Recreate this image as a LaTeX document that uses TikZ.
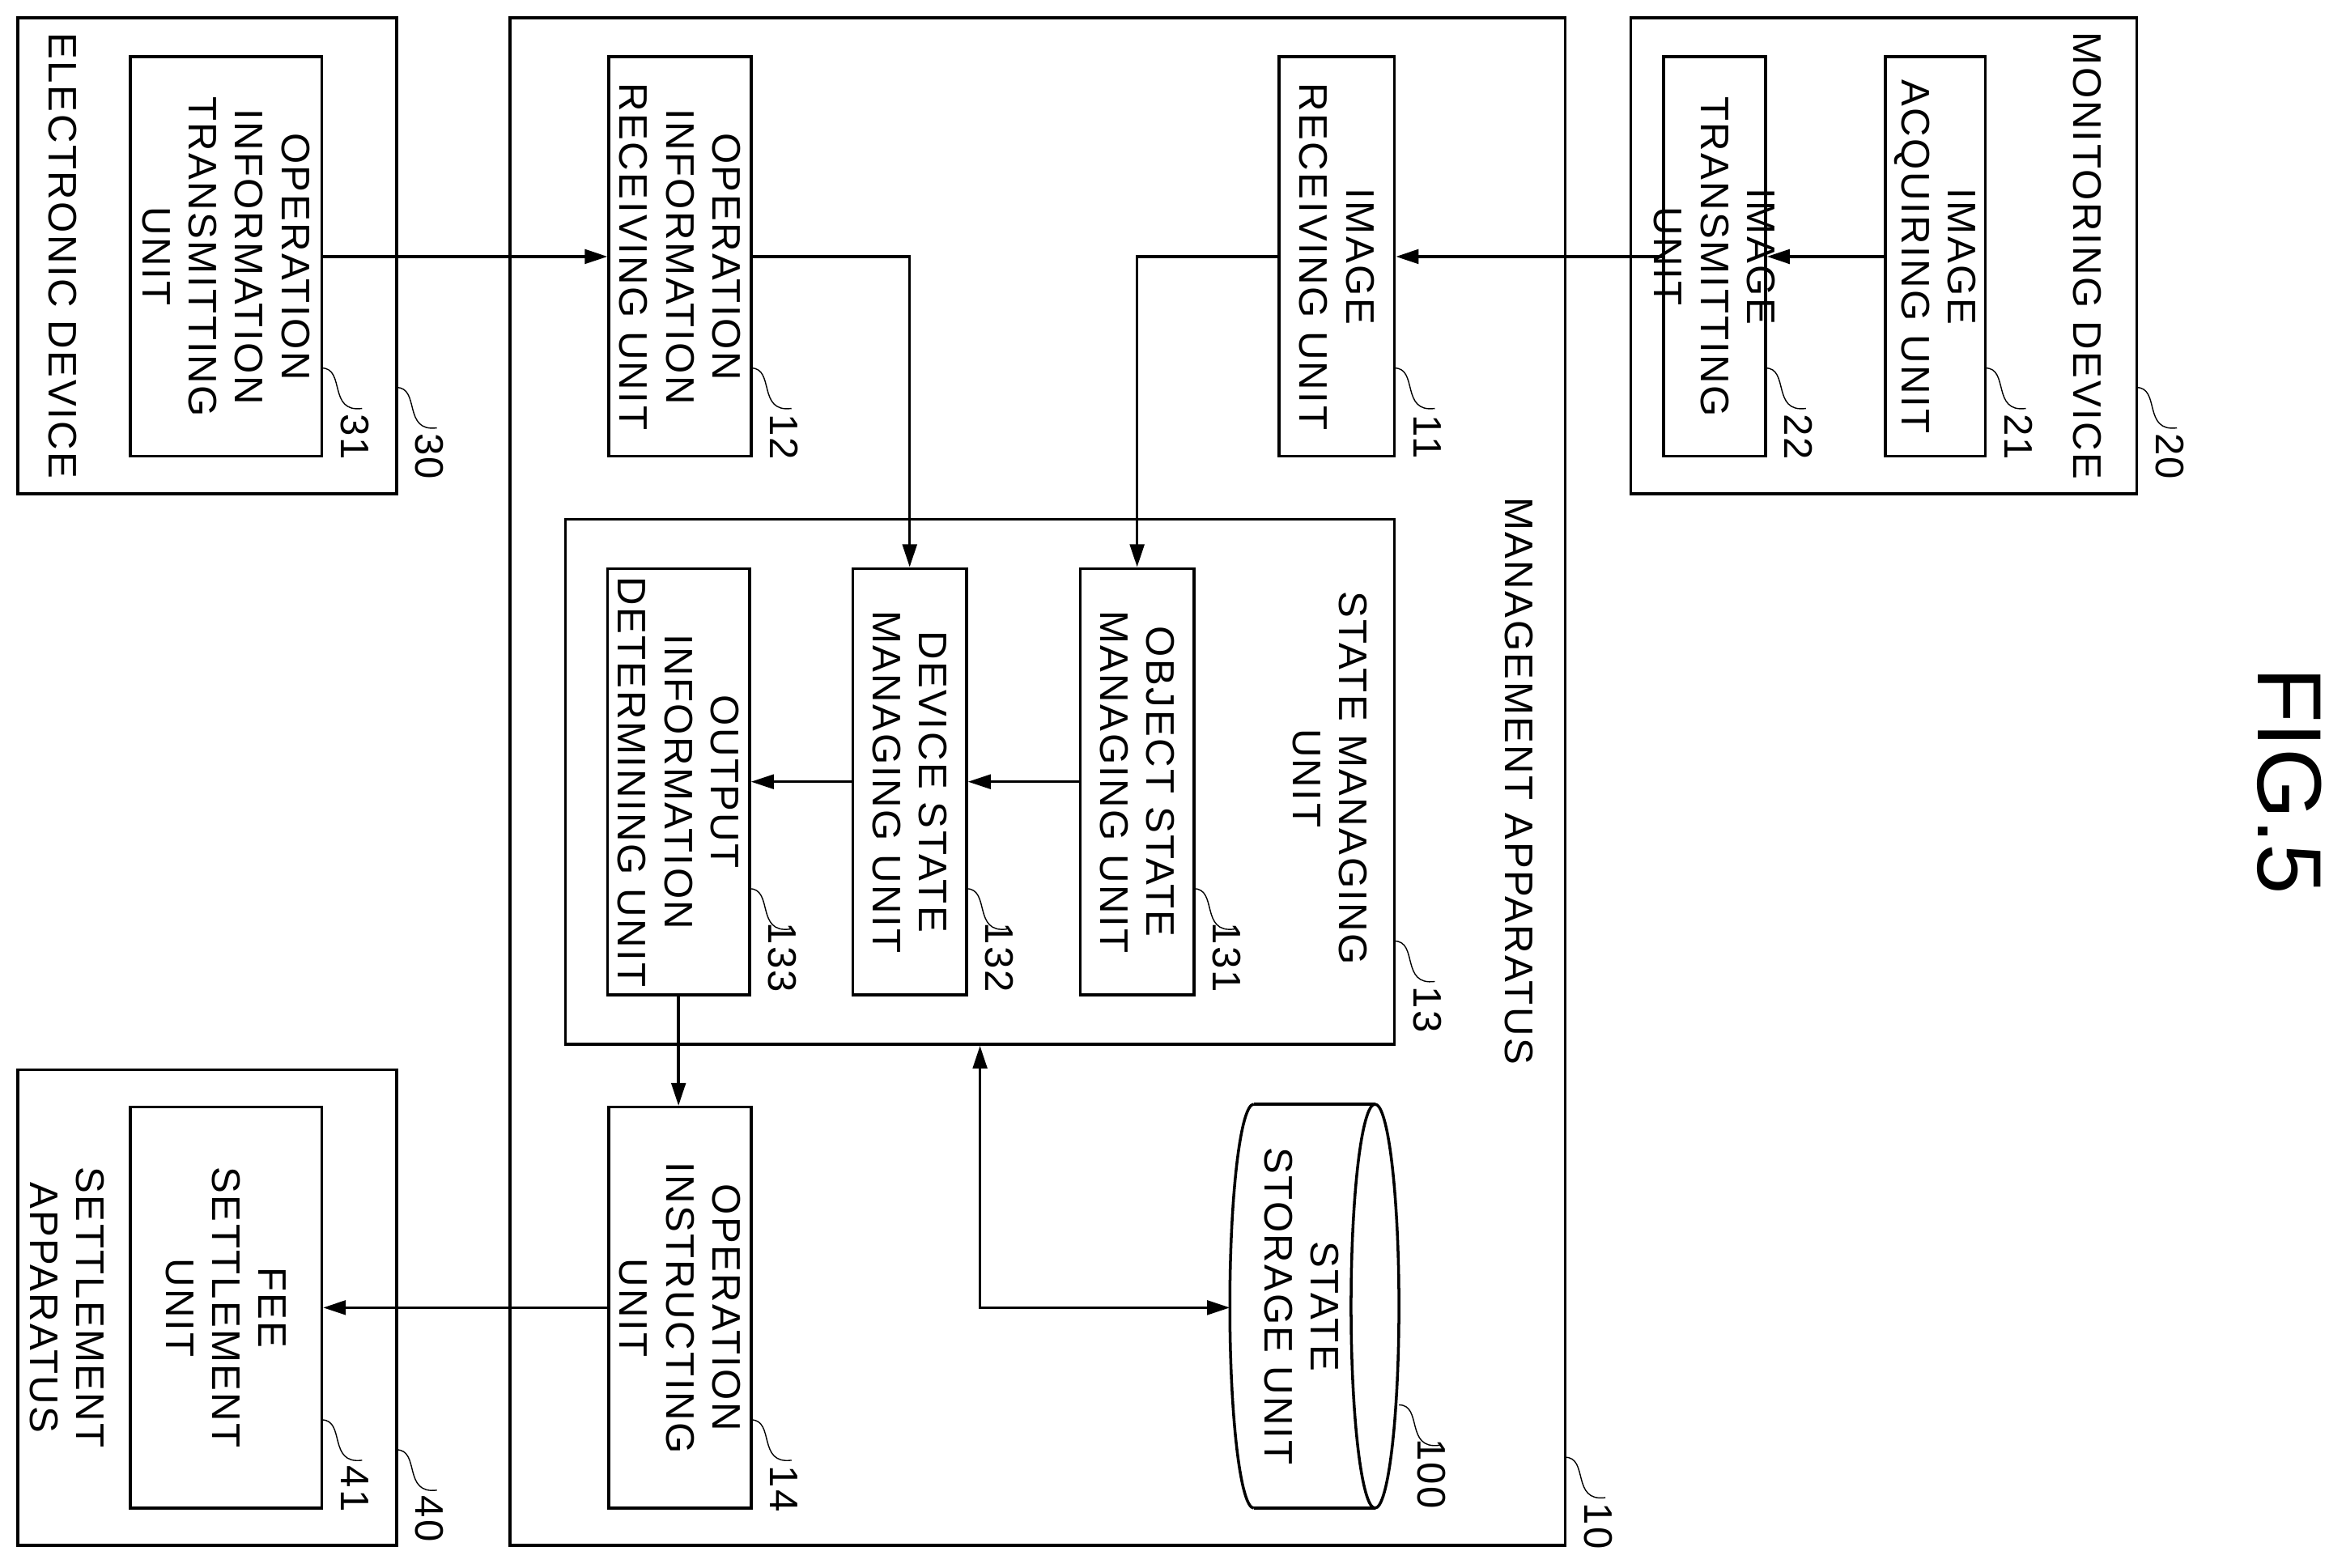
\documentclass[tikz,border=0pt]{standalone}
\usepackage{fontspec}
\setmainfont{Liberation Sans}
\usetikzlibrary{arrows.meta, fit}

\tikzset{
    box/.style={draw, line width=1pt, inner sep=0pt, fit={#1}},
    txt/.style={rotate=-90, align=center, inner sep=0pt,
        font=\fontsize{14}{16.3}\selectfont\addfontfeature{LetterSpace=5}},
    num/.style={rotate=-90, inner sep=0pt,
        font=\fontsize{14}{16.3}\selectfont\addfontfeature{LetterSpace=5}},
    leader/.style={line width=0.4pt},
    flow/.style={line width=1pt, -{Triangle[length=8pt, width=5pt]}},
    biflow/.style={line width=1pt, {Triangle[length=8pt, width=5pt]}-{Triangle[length=8pt, width=5pt]}}
}
\newcommand{\refnum}[3]{%
    \draw[leader] (#1,#2) .. controls ({#1+16},{#2}) and ({#1+4},{#2+30}) .. ({#1+27},{#2+27});
    \node[num] at ({#1+22},{#2+46}) {#3};}

\begin{document}
\begin{tikzpicture}[x=0.018495cm, y=-0.018495cm]
    \useasboundingbox (0,0) rectangle (1568,1048);

    % outer units
    \node[box={(12,12) (265,330)}] (ed) {};
    \node[box={(341,12) (1046,1033)}] (ma) {};
    \node[box={(1090,12) (1428,330)}] (md) {};
    \node[box={(12,715) (265,1033)}] (sa) {};
    \node[box={(378,347) (932,698)}] (smu) {};
    \node[txt] at (42,171) {ELECTRONIC DEVICE};
    \node[txt] at (1395,171) {MONITORING DEVICE};
    \node[txt] at (1015,522) {MANAGEMENT APPARATUS};
    \node[txt] at (889,520) {STATE MANAGING\\UNIT};
    \node[txt] at (45,874) {SETTLEMENT\\APPARATUS};

    % inner units
    \node[box={(87,38) (215,305)}] (otu) {};
    \node[box={(407,38) (502,305)}] (oir) {};
    \node[box={(855,38) (932,305)}] (irc) {};
    \node[box={(1112,38) (1180,305)}] (itu) {};
    \node[box={(1260,38) (1327,305)}] (iac) {};
    \node[box={(722,380) (798,665)}] (osm) {};
    \node[box={(570,380) (646,665)}] (dsm) {};
    \node[box={(406,380) (501,665)}] (oid) {};
    \node[box={(407,740) (502,1008)}] (oiu) {};
    \node[box={(87,740) (215,1008)}] (fsu) {};
    \node[txt] at (otu) {OPERATION\\INFORMATION\\TRANSMITTING\\UNIT};
    \node[txt] at (oir) {OPERATION\\INFORMATION\\RECEIVING UNIT};
    \node[txt] at (irc) {IMAGE\\RECEIVING UNIT};
    \node[txt] at (itu) {IMAGE\\TRANSMITTING\\UNIT};
    \node[txt] at (iac) {IMAGE\\ACQUIRING UNIT};
    \node[txt] at (osm) {OBJECT STATE\\MANAGING UNIT};
    \node[txt] at (dsm) {DEVICE STATE\\MANAGING UNIT};
    \node[txt] at (oid) {OUTPUT\\INFORMATION\\DETERMINING UNIT};
    \node[txt] at (oiu) {OPERATION\\INSTRUCTING\\UNIT};
    \node[txt] at (fsu) {FEE\\SETTLEMENT\\UNIT};

    % storage
    \draw[line width=1pt] (838,738) -- (919,738) (838,1008) -- (919,1008);
    \draw[line width=1pt] (919,873) ellipse [x radius=16, y radius=135];
    \draw[line width=1pt] (838,738) arc[start angle=270, end angle=90, x radius=16, y radius=135];
    \coordinate (ssu) at (822,874);
    \node[txt] at (870,873) {STATE\\STORAGE UNIT};

    % connectors
    \draw[flow] (otu) -- (oir);
    \draw[flow] (oir.east) -| (dsm.north);
    \draw[flow] (iac) -- (itu);
    \draw[flow] (itu) -- (irc);
    \draw[flow] (irc.west) -| (osm.north);
    \draw[flow] (osm) -- (dsm);
    \draw[flow] (dsm) -- (oid);
    \draw[flow] (oid.south) -- (oid.south |- oiu.north);
    \draw[flow] (oiu) -- (fsu);
    \draw[biflow] (smu.south) |- (ssu);

    % reference numerals
    \refnum{215}{246}{31}
    \refnum{265}{259}{30}
    \refnum{502}{246}{12}
    \refnum{932}{246}{11}
    \refnum{1180}{246}{22}
    \refnum{1327}{246}{21}
    \refnum{1428}{259}{20}
    \refnum{932}{629}{13}
    \refnum{798}{594}{131}
    \refnum{646}{594}{132}
    \refnum{501}{594}{133}
    \refnum{935}{939}{100}
    \refnum{502}{949}{14}
    \refnum{215}{949}{41}
    \refnum{265}{969}{40}
    \refnum{1046}{974}{10}

    \node[rotate=-90, font=\fontsize{32}{36}\selectfont] (fig) at (1530,522) {FIG.5};
\end{tikzpicture}
\end{document}
